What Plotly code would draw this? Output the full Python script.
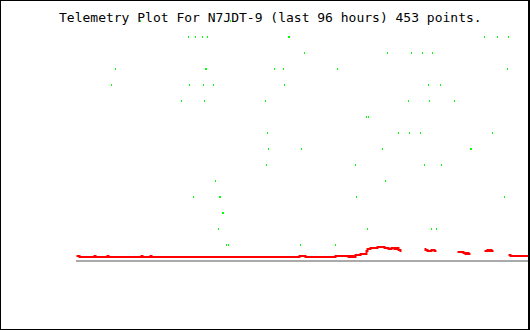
import plotly.graph_objects as go

TITLE = "Telemetry Plot For N7JDT-9 (last 96 hours) 453 points."

# ---- data (hours since start of the 96 h window) ----
# red channel, step readings; None marks a gap in reception
red_hours = [0.00, 0.64, 3.82, 4.04, 6.58, 6.80, 13.81, 14.02, 15.72, 15.93,
             47.36, 48.64, 55.01, 57.77, 57.98, 58.19, 58.62, 58.83, 59.26, 60.32,
             61.59, 61.81, 62.44, 63.93, 65.42, 66.27, 66.90, 67.54, 67.96, 68.39,
             68.81, 69.03, None,
             73.91, 74.12, 74.55, 75.40, 76.04, 76.46, None,
             80.92, 82.19, 82.62, 83.04, 83.26, 83.68, None,
             86.65, 87.29, 87.72, 87.93, 88.14, 88.57, None,
             91.75, 92.18, 96.00]
red_values = [0.3125, 0.25, 0.3125, 0.25, 0.3125, 0.25, 0.3125, 0.25, 0.3125, 0.25,
              0.3125, 0.25, 0.3125, 0.25, 0.3125, 0.25, 0.3125, 0.25, 0.375, 0.4375,
              0.625, 0.75, 0.8125, 0.875, 0.8125, 0.75, 0.8125, 0.75, 0.8125, 0.6875,
              0.625, 0.625, None,
              0.75, 0.6875, 0.625, 0.6875, 0.625, 0.625, None,
              0.5625, 0.5, 0.4375, 0.5, 0.4375, 0.4375, None,
              0.625, 0.6875, 0.625, 0.6875, 0.625, 0.625, None,
              0.375, 0.3125, 0.3125]

# green channel, integer levels
green_hours = [13.59, 32.71,
               23.79, 25.27, 26.76, 27.82, 45.03, 45.24, 86.65, 89.42, 91.75,
               48.42, 66.05, 71.15, 73.49, 75.61,
               8.28, 27.40, 27.61, 42.05, 43.96, 55.43, 91.54,
               7.43, 24.00, 26.97, 29.10, 44.18, 74.76, 77.31,
               22.30, 27.19, 40.14, 70.51, 74.97, 80.28,
               61.59, 62.02,
               40.57, 68.39, 70.73, 73.06, 88.35,
               40.78, 47.79, 64.99, 83.68, 83.89,
               40.35, 59.26, 73.91, 77.52,
               29.52, 65.63,
               24.85, 30.37, 30.58, 59.47, 90.90,
               31.01, 31.22,
               30.16, 61.81, 75.40, 76.46,
               31.86, 32.28, 47.58, 55.01]
green_values = [15, 15,
                14, 14, 14, 14, 14, 14, 14, 14, 14,
                13, 13, 13, 13, 13,
                12, 12, 12, 12, 12, 12, 12,
                11, 11, 11, 11, 11, 11, 11,
                10, 10, 10, 10, 10, 10,
                9, 9,
                8, 8, 8, 8, 8,
                7, 7, 7, 7, 7,
                6, 6, 6, 6,
                5, 5,
                4, 4, 4, 4, 4,
                3, 3,
                2, 2, 2, 2,
                1, 1, 1, 1]

# ---- layout geometry ----
W, H = 530, 330
ML, MR = 76, 2
PW = W - ML - MR
PX_PER_HOUR = PW / 96.0
PX_PER_UNIT = 16.0
ZERO_Y = 261.0
x0 = -0.5 / PX_PER_HOUR
x1 = x0 + PW / PX_PER_HOUR
y1 = ZERO_Y / PX_PER_UNIT
y0 = y1 - H / PX_PER_UNIT


def px_x(px):
    return (px - ML) / PW


def px_y(py):
    return 1 - py / H


fig = go.Figure()
fig.add_trace(go.Scatter(
    x=red_hours, y=red_values, mode="lines",
    line=dict(color="#ff0000", width=2, shape="hv"),
    connectgaps=False, hoverinfo="skip", showlegend=False))
fig.add_trace(go.Scatter(
    x=green_hours, y=green_values, mode="markers",
    marker=dict(symbol="line-ns", size=1.43, color="#00ff00",
                line=dict(color="#00ff00", width=1)),
    hoverinfo="skip", showlegend=False))

border = "#000000"
shapes = [
    dict(type="line", xref="paper", yref="paper", x0=px_x(0.5), x1=px_x(0.5),
         y0=px_y(0), y1=px_y(H), line=dict(color=border, width=1)),
    dict(type="line", xref="paper", yref="paper", x0=px_x(0), x1=px_x(W),
         y0=px_y(0.5), y1=px_y(0.5), line=dict(color=border, width=1)),
    dict(type="line", xref="paper", yref="paper", x0=px_x(0), x1=px_x(W),
         y0=px_y(H - 0.5), y1=px_y(H - 0.5), line=dict(color=border, width=1)),
    dict(type="line", xref="paper", yref="paper", x0=px_x(529), x1=px_x(529),
         y0=px_y(0), y1=px_y(H), line=dict(color=border, width=2)),
]

fig.update_layout(
    width=W, height=H,
    margin=dict(l=ML, r=MR, t=0, b=0, pad=0),
    paper_bgcolor="#ffffff", plot_bgcolor="#ffffff",
    showlegend=False,
    xaxis=dict(range=[x0, x1], showgrid=False, zeroline=False, showline=False,
               showticklabels=False, ticks="", fixedrange=True),
    yaxis=dict(range=[y0, y1], showgrid=False, zeroline=True,
               zerolinecolor="#aaaaaa", zerolinewidth=2, showline=False,
               showticklabels=False, ticks="", fixedrange=True),
    shapes=shapes,
    annotations=[dict(text=TITLE, xref="paper", yref="paper",
                      x=px_x(57), y=px_y(17.5), xanchor="left", yanchor="middle",
                      showarrow=False,
                      font=dict(family="DejaVu Sans Mono", size=13, color="#000000"))],
)

fig.write_html("out.html", config={"displayModeBar": False})
